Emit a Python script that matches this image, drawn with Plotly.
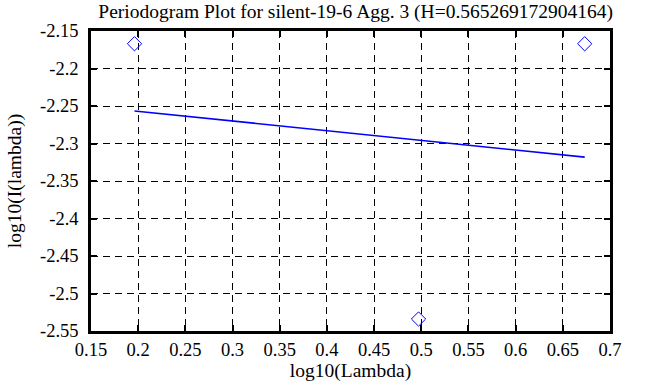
import plotly.graph_objects as go

# Data
point_x = [0.1961, 0.4971, 0.6732]
point_y = [-2.167, -2.534, -2.167]
fit_x = [0.1961, 0.6732]
fit_y = [-2.2566, -2.3182]

x_tickvals = [0.15, 0.2, 0.25, 0.3, 0.35, 0.4, 0.45, 0.5, 0.55, 0.6, 0.65, 0.7]
x_ticktext = ["0.15", "0.2", "0.25", "0.3", "0.35", "0.4", "0.45", "0.5", "0.55", "0.6", "0.65", "0.7"]
y_tickvals = [-2.15, -2.2, -2.25, -2.3, -2.35, -2.4, -2.45, -2.5, -2.55]
y_ticktext = ["-2.15", "-2.2", "-2.25", "-2.3", "-2.35", "-2.4", "-2.45", "-2.5", "-2.55"]

title_text = "Periodogram Plot for silent-19-6 Agg. 3 (H=0.565269172904164)"

FONT = "Liberation Serif"

fig = go.Figure()
fig.add_trace(go.Scatter(
    x=fit_x, y=fit_y, mode="lines",
    line=dict(color="#0000ff", width=1.6),
    showlegend=False, hoverinfo="skip",
))
fig.add_trace(go.Scatter(
    x=point_x, y=point_y, mode="markers",
    marker=dict(symbol="diamond-open", size=11, color="#0000ff", line=dict(width=1, color="#0000ff")),
    showlegend=False,
))

axis_common = dict(
    showline=True, linecolor="black", linewidth=2.5, mirror="ticks",
    ticks="inside", ticklen=6, tickwidth=2, tickcolor="black",
    showgrid=True, gridcolor="black", gridwidth=1, griddash="7px,5px",
    zeroline=False, automargin=False,
    tickfont=dict(family=FONT, size=18.5, color="black"),
)

fig.update_xaxes(
    range=[0.15, 0.7], tickvals=x_tickvals, ticktext=x_ticktext,
    title=dict(text="log10(Lambda)", font=dict(family=FONT, size=19.5, color="black"), standoff=5),
    ticklabelstandoff=0,
    **axis_common,
)
fig.update_yaxes(
    range=[-2.55, -2.15], tickvals=y_tickvals, ticktext=y_ticktext,
    title=dict(text="log10(I(lambda))", font=dict(family=FONT, size=19.5, color="black"), standoff=14),
    ticklabelstandoff=6,
    **axis_common,
)

fig.update_layout(
    width=663, height=387,
    margin=dict(l=91, r=53, t=31, b=56),
    paper_bgcolor="white", plot_bgcolor="white",
    title=dict(text=title_text, x=0.51, xref="paper", y=0.99, yanchor="top",
               pad=dict(t=0, b=0, l=0, r=0),
               font=dict(family=FONT, size=19.5, color="black")),
    font=dict(family=FONT, color="black"),
)

fig.write_html(
    "out.html",
    config={"displayModeBar": False},
    post_script="document.body.style.margin='0';document.body.style.padding='0';document.body.style.overflow='hidden';",
)
